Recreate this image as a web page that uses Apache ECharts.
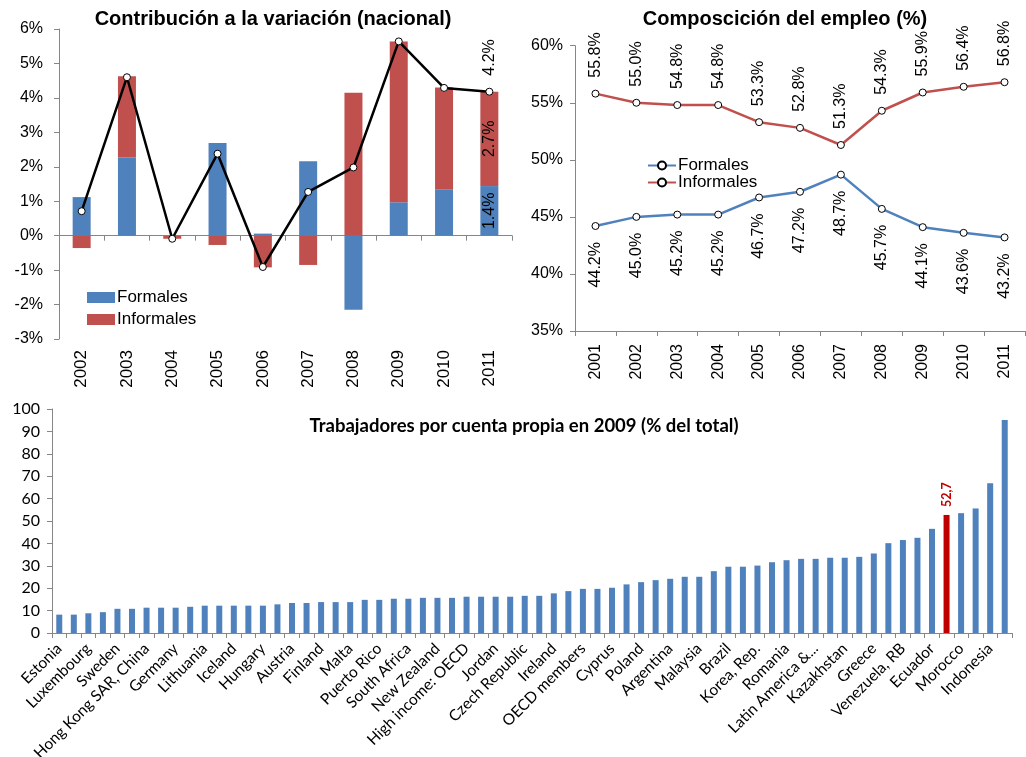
<!DOCTYPE html>
<html>
<head>
<meta charset="utf-8">
<script src="https://cdn.jsdelivr.net/npm/echarts@6/dist/echarts.min.js"></script>
<style>
  html, body { margin: 0; padding: 0; background: #fff; }
  #wrap { position: relative; width: 1026px; height: 757px; overflow: hidden; }
  .panel { position: absolute; }
  #contrib { left: 0; top: 0; width: 515px; height: 392px; }
  #compos { left: 515px; top: 0; width: 511px; height: 392px; }
  #cuenta { left: 0; top: 392px; width: 1026px; height: 365px; }
</style>
</head>
<body>
<div id="wrap">
  <div id="contrib" class="panel"></div>
  <div id="compos" class="panel"></div>
  <div id="cuenta" class="panel"></div>
</div>
<script>
// --- Contribución a la variación (nacional), puntos porcentuales ---
const contribYears = ['2002', '2003', '2004', '2005', '2006', '2007', '2008', '2009', '2010', '2011'];
const contribFormales = [1.12, 2.27, -0.01, 2.69, 0.06, 2.16, -2.15, 0.97, 1.33, 1.44];
const contribInformales = [-0.36, 2.36, -0.08, -0.27, -0.92, -0.85, 4.15, 4.67, 2.97, 2.74];
const contribTotal = [0.71, 4.60, -0.09, 2.38, -0.91, 1.27, 1.98, 5.64, 4.29, 4.18];

// --- Composición del empleo (%) ---
const composYears = ['2001', '2002', '2003', '2004', '2005', '2006', '2007', '2008', '2009', '2010', '2011'];
const composFormales = [44.2, 45.0, 45.2, 45.2, 46.7, 47.2, 48.7, 45.7, 44.1, 43.6, 43.2];
const composInformales = [55.8, 55.0, 54.8, 54.8, 53.3, 52.8, 51.3, 54.3, 55.9, 56.4, 56.8];

// --- Trabajadores por cuenta propia en 2009 (% del total) ---
// Only every other country is labelled on the axis.
const labelledCountries = [
  'Estonia', 'Luxembourg', 'Sweden', 'Hong Kong SAR, China', 'Germany', 'Lithuania',
  'Iceland', 'Hungary', 'Austria', 'Finland', 'Malta', 'Puerto Rico', 'South Africa',
  'New Zealand', 'High income: OECD', 'Jordan', 'Czech Republic', 'Ireland',
  'OECD members', 'Cyprus', 'Poland', 'Argentina', 'Malaysia', 'Brazil', 'Korea, Rep.',
  'Romania', 'Latin America &...', 'Kazakhstan', 'Greece', 'Venezuela, RB', 'Ecuador',
  'Morocco', 'Indonesia'
];
const selfEmployed = [
  8.2, 8.2, 8.8, 9.3, 10.8, 10.8, 11.3, 11.3, 11.3, 11.7,
  12.2, 12.2, 12.2, 12.2, 12.2, 12.8, 13.4, 13.4, 13.8, 13.8,
  13.8, 14.8, 14.8, 15.3, 15.3, 15.7, 15.7, 15.7, 16.2, 16.2,
  16.2, 16.2, 16.6, 16.6, 17.7, 18.7, 19.7, 19.7, 20.2, 21.7,
  22.7, 23.6, 24.2, 25.1, 25.1, 27.6, 29.6, 29.6, 30.1, 31.6,
  32.5, 33.1, 33.1, 33.6, 33.6, 34.0, 35.5, 40.1, 41.5, 42.5,
  46.5, 52.7, 53.5, 55.6, 66.9, 95.1
];
const highlightIndex = 61;

const BLUE = '#4F81BD';
const RED = '#C0504D';
const AXIS_GREY = '#868686';
const ARIAL = '"Liberation Sans", Arial, sans-serif';
const CALIBRI = 'Lato, "Open Sans", sans-serif';

const pct1 = v => v.toFixed(1) + '%';
const lastOnly = (arr, label) => arr.map((v, i) => i === arr.length - 1 ? { value: v, label: label } : v);

// ---------- Chart 1: stacked contributions + total line ----------
const c1 = echarts.init(document.getElementById('contrib'), null, { renderer: 'canvas' });
c1.setOption({
  animation: false,
  title: {
    text: 'Contribución a la variación (nacional)',
    left: 268, top: 4, textAlign: 'center',
    textStyle: { fontFamily: ARIAL, fontWeight: 'bold', fontSize: 20, color: '#000' }
  },
  legend: {
    data: ['Formales', 'Informales'],
    orient: 'vertical', left: 82, top: 284,
    itemWidth: 28, itemHeight: 11, itemGap: 5,
    icon: 'rect',
    textStyle: { fontFamily: ARIAL, fontSize: 17, color: '#000', padding: [0, 0, 0, -3] }
  },
  grid: { left: 59, top: 29, width: 453, height: 310, outerBoundsMode: 'none' },
  xAxis: [
    {
      type: 'category', data: contribYears,
      axisLine: { onZero: true, lineStyle: { color: AXIS_GREY } },
      axisTick: { show: true, length: 5, lineStyle: { color: AXIS_GREY } },
      axisLabel: { show: false }
    },
    {
      type: 'category', data: contribYears, position: 'bottom',
      axisLine: { show: false, onZero: false }, axisTick: { show: false },
      axisLabel: { rotate: 90, margin: 11, fontFamily: ARIAL, fontSize: 17, color: '#000' }
    }
  ],
  yAxis: {
    type: 'value', min: -3, max: 6, interval: 1,
    axisLine: { show: true, lineStyle: { color: AXIS_GREY } },
    axisTick: { show: true, length: 5, lineStyle: { color: AXIS_GREY } },
    splitLine: { show: false },
    axisLabel: { formatter: '{value}%', margin: 16, fontFamily: ARIAL, fontSize: 16, color: '#000' }
  },
  series: [
    {
      name: 'Formales', type: 'bar', stack: 'c', barWidth: 18,
      itemStyle: { color: BLUE },
      data: lastOnly(contribFormales, {
        show: true, position: 'inside', rotate: 90, formatter: p => pct1(p.value),
        fontFamily: ARIAL, fontSize: 16, color: '#000'
      })
    },
    {
      name: 'Informales', type: 'bar', stack: 'c', barWidth: 18,
      itemStyle: { color: RED },
      data: lastOnly(contribInformales, {
        show: true, position: 'inside', rotate: 90, formatter: p => pct1(p.value),
        fontFamily: ARIAL, fontSize: 16, color: '#000'
      })
    },
    {
      name: 'Total', type: 'line', z: 5,
      symbol: 'circle', symbolSize: 7,
      lineStyle: { color: '#000', width: 2.5 },
      itemStyle: { color: '#fff', borderColor: '#000', borderWidth: 1 },
      data: lastOnly(contribTotal, {
        show: true, position: 'top', rotate: 90, distance: 12, align: 'left', verticalAlign: 'middle',
        formatter: p => pct1(p.value),
        fontFamily: ARIAL, fontSize: 16, color: '#000'
      })
    }
  ]
});

// ---------- Chart 2: composition lines ----------
const labelCommon = {
  show: true, rotate: 90, distance: 12, verticalAlign: 'middle',
  formatter: p => pct1(p.value), fontFamily: ARIAL, fontSize: 16, color: '#000'
};
const c2 = echarts.init(document.getElementById('compos'), null, { renderer: 'canvas' });
c2.setOption({
  animation: false,
  title: {
    text: 'Composcición del empleo (%)',
    left: 265, top: 4, textAlign: 'center',
    textStyle: { fontFamily: ARIAL, fontWeight: 'bold', fontSize: 20, color: '#000' }
  },
  legend: {
    data: ['Formales', 'Informales'],
    orient: 'vertical', left: 127, top: 152,
    itemWidth: 28, itemHeight: 10, itemGap: 0,
    textStyle: { fontFamily: ARIAL, fontSize: 17, color: '#000', padding: [0, 0, 0, -3] }
  },
  grid: { left: 60, top: 45.7, width: 450, height: 285.3, outerBoundsMode: 'none' },
  xAxis: {
    type: 'category', data: composYears,
    axisLine: { lineStyle: { color: AXIS_GREY } },
    axisTick: { show: true, length: 5, lineStyle: { color: AXIS_GREY } },
    axisLabel: { rotate: 90, margin: 13, fontFamily: ARIAL, fontSize: 16, color: '#000' }
  },
  yAxis: {
    type: 'value', min: 35, max: 60, interval: 5,
    axisLine: { show: true, lineStyle: { color: AXIS_GREY } },
    axisTick: { show: true, length: 5, lineStyle: { color: AXIS_GREY } },
    splitLine: { show: false },
    axisLabel: { formatter: '{value}%', margin: 12, fontFamily: ARIAL, fontSize: 16, color: '#000' }
  },
  series: [
    {
      name: 'Formales', type: 'line', symbol: 'circle', symbolSize: 7,
      lineStyle: { color: BLUE, width: 2.5 },
      itemStyle: { color: '#fff', borderColor: '#000', borderWidth: 1 },
      label: Object.assign({}, labelCommon, { position: 'bottom', align: 'right' }),
      data: composFormales
    },
    {
      name: 'Informales', type: 'line', symbol: 'circle', symbolSize: 7,
      lineStyle: { color: RED, width: 2.5 },
      itemStyle: { color: '#fff', borderColor: '#000', borderWidth: 1 },
      label: Object.assign({}, labelCommon, { position: 'top', align: 'left' }),
      data: composInformales
    }
  ]
});

// ---------- Chart 3: self-employment by country ----------
const countryAxis = [];
labelledCountries.forEach(name => { countryAxis.push(name); countryAxis.push(''); });
countryAxis.length = selfEmployed.length;

const c3 = echarts.init(document.getElementById('cuenta'), null, { renderer: 'canvas' });
c3.setOption({
  animation: false,
  title: {
    text: 'Trabajadores por cuenta propia en 2009 (% del total)',
    left: 519, top: 20, textAlign: 'center',
    textStyle: { fontFamily: CALIBRI, fontWeight: 'bold', fontSize: 18.5, color: '#000' }
  },
  grid: { left: 52, top: 17, width: 960, height: 224, outerBoundsMode: 'none' },
  xAxis: {
    type: 'category', data: countryAxis,
    axisLine: { lineStyle: { color: AXIS_GREY } },
    axisTick: { show: true, interval: 0, length: 5, lineStyle: { color: AXIS_GREY } },
    axisLabel: { interval: 1, rotate: 45, margin: 13, fontFamily: CALIBRI, fontSize: 15.5, color: '#000' }
  },
  yAxis: {
    type: 'value', min: 0, max: 100, interval: 10,
    axisLine: { show: true, lineStyle: { color: AXIS_GREY } },
    axisTick: { show: true, length: 5, lineStyle: { color: AXIS_GREY } },
    splitLine: { show: false },
    axisLabel: { margin: 12, fontFamily: CALIBRI, fontSize: 16, color: '#000' }
  },
  series: [{
    type: 'bar', barWidth: 6,
    itemStyle: { color: BLUE },
    data: selfEmployed.map((v, i) => i === highlightIndex ? {
      value: v,
      itemStyle: { color: '#C00000' },
      label: {
        show: true, position: 'top', rotate: 90, distance: 8, align: 'left', verticalAlign: 'middle',
        formatter: p => String(p.value).replace('.', ','),
        fontFamily: CALIBRI, fontWeight: 'bold', fontSize: 12.5, color: '#C00000'
      }
    } : v)
  }]
});
</script>
</body>
</html>
